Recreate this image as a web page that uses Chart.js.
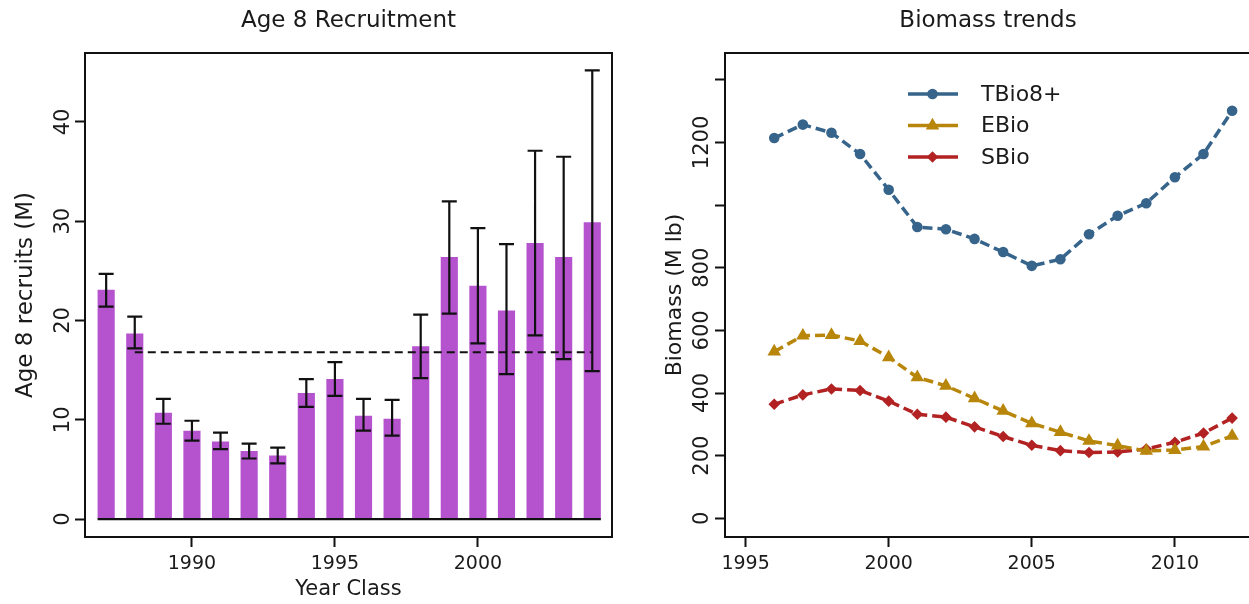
<!DOCTYPE html>
<html>
<head>
<meta charset="utf-8">
<title>Age 8 Recruitment / Biomass trends</title>
<script src="https://cdn.jsdelivr.net/npm/chart.js@4.4.0/dist/chart.umd.min.js"></script>
<style>
  html, body { margin: 0; padding: 0; background: #fff; overflow: hidden; width: 1249px; height: 604px; }
  #left { position: absolute; left: 0; top: 0; }
  #right { position: absolute; left: 640px; top: 0; }
</style>
</head>
<body>
<canvas id="left" width="640" height="604"></canvas>
<canvas id="right" width="611" height="604"></canvas>
<script>
// ---- Age 8 recruitment (left panel) ----
var yearClass = [1987, 1988, 1989, 1990, 1991, 1992, 1993, 1994, 1995, 1996, 1997, 1998, 1999, 2000, 2001, 2002, 2003, 2004];
var recruits = [23.1, 18.7, 10.7, 8.9, 7.8, 6.85, 6.4, 12.7, 14.1, 10.4, 10.1, 17.4, 26.4, 23.5, 21.0, 27.8, 26.4, 29.9];
var recruitsLow = [21.4, 17.2, 9.6, 7.9, 7.05, 6.1, 5.6, 11.3, 12.4, 8.9, 8.4, 14.2, 20.7, 17.7, 14.6, 18.5, 16.1, 14.9];
var recruitsHigh = [24.7, 20.4, 12.1, 9.9, 8.7, 7.6, 7.2, 14.1, 15.8, 12.1, 12.0, 20.6, 32.0, 29.3, 27.7, 37.1, 36.5, 45.2];
var meanYears = [1988, 2004];
var meanRecruits = 16.8;
var recruitTicks = [0, 10, 20, 30, 40];
var yearClassTicks = [1990, 1995, 2000];

// ---- Biomass trends (right panel) ----
var bioYears = [1996, 1997, 1998, 1999, 2000, 2001, 2002, 2003, 2004, 2005, 2006, 2007, 2008, 2009, 2010, 2011, 2012];
var tbio = [1214, 1257, 1231, 1163, 1049, 930, 923, 892, 850, 806, 827, 907, 966, 1006, 1089, 1163, 1301];
var ebio = [532, 583, 585, 566, 514, 450, 423, 383, 343, 303, 275, 247, 232, 215, 218, 229, 263];
var sbio = [364, 394, 413, 408, 374, 332, 323, 292, 261, 233, 216, 210, 212, 221, 243, 272, 320];
var bioTicks = [0, 200, 400, 600, 800, 1000, 1200, 1400];
var bioTickLabels = [0, 200, 400, 600, 800, 1200];
var bioYearTicks = [1995, 2000, 2005, 2010];

Chart.defaults.font.family = '"DejaVu Sans", sans-serif';
Chart.defaults.color = '#1a1a1a';

function toPoints(xs, ys) {
  return xs.map(function(x, i) { return {x: x, y: ys[i]}; });
}

// box round the plot region, like R's bty="o"
var boxPlugin = {
  id: 'box',
  afterDraw: function(chart) {
    var a = chart.chartArea, c = chart.ctx;
    c.save();
    c.strokeStyle = '#111';
    c.lineWidth = 2;
    c.strokeRect(a.left, a.top, a.right - a.left, a.bottom - a.top);
    c.restore();
  }
};

// error bars + zero line for the barplot
var errorBarPlugin = {
  id: 'errorBars',
  afterDatasetsDraw: function(chart) {
    var xs = chart.scales.x, ys = chart.scales.y, c = chart.ctx;
    c.save();
    c.strokeStyle = '#111';
    c.lineWidth = 2.2;
    c.beginPath();
    yearClass.forEach(function(yr, i) {
      var x = xs.getPixelForValue(yr);
      var lo = ys.getPixelForValue(recruitsLow[i]);
      var hi = ys.getPixelForValue(recruitsHigh[i]);
      c.moveTo(x, lo); c.lineTo(x, hi);
      c.moveTo(x - 7.5, lo); c.lineTo(x + 7.5, lo);
      c.moveTo(x - 7.5, hi); c.lineTo(x + 7.5, hi);
    });
    var bars = chart.getDatasetMeta(1).data;
    var first = bars[0], last = bars[bars.length - 1];
    var y0 = ys.getPixelForValue(0);
    c.moveTo(first.x - first.width / 2, y0);
    c.lineTo(last.x + last.width / 2, y0);
    c.stroke();
    c.restore();
  }
};

// legend with line + marker like R's legend(lty, pch)
var bioLegendPlugin = {
  id: 'bioLegend',
  afterDraw: function(chart) {
    var c = chart.ctx, a = chart.chartArea;
    var x0 = a.left + 183, x1 = a.left + 233, xm = a.left + 207.5, xt = a.left + 256;
    c.save();
    chart.data.datasets.forEach(function(ds, i) {
      var y = a.top + 41 + i * 31.5;
      c.strokeStyle = ds.borderColor;
      c.fillStyle = ds.borderColor;
      c.lineWidth = ds.borderWidth;
      c.setLineDash([]);
      c.beginPath(); c.moveTo(x0, y); c.lineTo(x1, y); c.stroke();
      Chart.helpers.drawPoint(c, {pointStyle: ds.pointStyle, radius: ds.pointRadius, rotation: 0, borderWidth: 0}, xm, y);
      c.fillStyle = '#1a1a1a';
      c.font = '22px "DejaVu Sans", sans-serif';
      c.textBaseline = 'middle';
      c.textAlign = 'left';
      c.fillText(ds.label, xt, y + 1);
    });
    c.restore();
  }
};

var tickGrid = {display: true, drawOnChartArea: false, tickLength: 10, tickWidth: 2, tickColor: '#111'};

var leftChart = new Chart(document.getElementById('left'), {
  type: 'bar',
  data: {
    datasets: [{
      type: 'line',
      label: 'mean',
      order: 0,
      data: toPoints(meanYears, [meanRecruits, meanRecruits]),
      borderColor: '#111',
      borderWidth: 2,
      borderDash: [8, 5],
      pointRadius: 0,
      fill: false
    }, {
      type: 'bar',
      label: 'Age 8 recruits',
      order: 1,
      data: toPoints(yearClass, recruits),
      backgroundColor: '#B553CF',
      borderWidth: 0,
      barPercentage: 0.6,
      categoryPercentage: 1
    }]
  },
  options: {
    responsive: false,
    animation: false,
    events: [],
    layout: {padding: {left: 0, right: 28, top: 0, bottom: 0}, autoPadding: false},
    plugins: {
      legend: {display: false},
      tooltip: {enabled: false},
      title: {display: true, text: 'Age 8 Recruitment', fullSize: false, color: '#1a1a1a',
        font: {size: 23, weight: 'normal'}, padding: {top: 7, bottom: 18.4}}
    },
    scales: {
      x: {
        type: 'linear', min: 1986.26, max: 2004.69, offset: false,
        grid: Object.assign({offset: false}, tickGrid),
        border: {display: false},
        ticks: {font: {size: 19}, padding: 6, maxRotation: 0, autoSkip: false,
          callback: function(v) { return String(v); }},
        afterBuildTicks: function(s) { s.ticks = yearClassTicks.map(function(v) { return {value: v}; }); },
        afterFit: function(s) { s.height = 67; },
        title: {display: true, text: 'Year Class', font: {size: 21}, padding: {top: 0, bottom: 2}}
      },
      y: {
        min: -1.81, max: 46.95,
        grid: tickGrid,
        border: {display: false},
        ticks: {font: {size: 21}, minRotation: 90, maxRotation: 90, crossAlign: 'center', padding: -2,
          autoSkip: false, callback: function(v) { return String(v); }},
        afterBuildTicks: function(s) { s.ticks = recruitTicks.map(function(v) { return {value: v}; }); },
        afterFit: function(s) { s.width = 85; },
        title: {display: true, text: 'Age 8 recruits (M)', font: {size: 23}, padding: {top: 12, bottom: 0}}
      }
    }
  },
  plugins: [boxPlugin, errorBarPlugin]
});

function bioSeries(label, values, color, style, radius) {
  return {
    label: label,
    data: toPoints(bioYears, values),
    borderColor: color,
    backgroundColor: color,
    pointBackgroundColor: color,
    borderWidth: 3.5,
    borderDash: [10, 5],
    pointStyle: style,
    pointRadius: radius,
    pointBorderWidth: 0,
    tension: 0,
    fill: false
  };
}

var rightChart = new Chart(document.getElementById('right'), {
  type: 'line',
  data: {
    datasets: [
      bioSeries('TBio8+', tbio, '#36648B', 'circle', 5.3),
      bioSeries('EBio', ebio, '#B8860B', 'triangle', 7.8),
      bioSeries('SBio', sbio, '#B22222', 'rectRot', 5.8)
    ]
  },
  options: {
    responsive: false,
    animation: false,
    events: [],
    layout: {padding: 0, autoPadding: false},
    plugins: {
      legend: {display: false},
      tooltip: {enabled: false},
      title: {display: true, text: 'Biomass trends', fullSize: false, color: '#1a1a1a',
        font: {size: 23, weight: 'normal'}, padding: {top: 7, bottom: 18.4}}
    },
    scales: {
      x: {
        type: 'linear', min: 1994.28, max: 2012.66,
        grid: tickGrid,
        border: {display: false},
        ticks: {font: {size: 19}, padding: 6, maxRotation: 0, autoSkip: false,
          callback: function(v) { return String(v); }},
        afterBuildTicks: function(s) { s.ticks = bioYearTicks.map(function(v) { return {value: v}; }); },
        afterFit: function(s) { s.height = 67; }
      },
      y: {
        min: -59.7, max: 1485.6,
        grid: tickGrid,
        border: {display: false},
        ticks: {font: {size: 21}, minRotation: 90, maxRotation: 90, crossAlign: 'center', padding: -14,
          autoSkip: false,
          callback: function(v) { return bioTickLabels.indexOf(v) >= 0 ? String(v) : ''; }},
        afterBuildTicks: function(s) { s.ticks = bioTicks.map(function(v) { return {value: v}; }); },
        afterFit: function(s) { s.width = 85; },
        title: {display: true, text: 'Biomass (M lb)', font: {size: 22}, padding: {top: 22, bottom: 0}}
      }
    }
  },
  plugins: [boxPlugin, bioLegendPlugin]
});
</script>
</body>
</html>
